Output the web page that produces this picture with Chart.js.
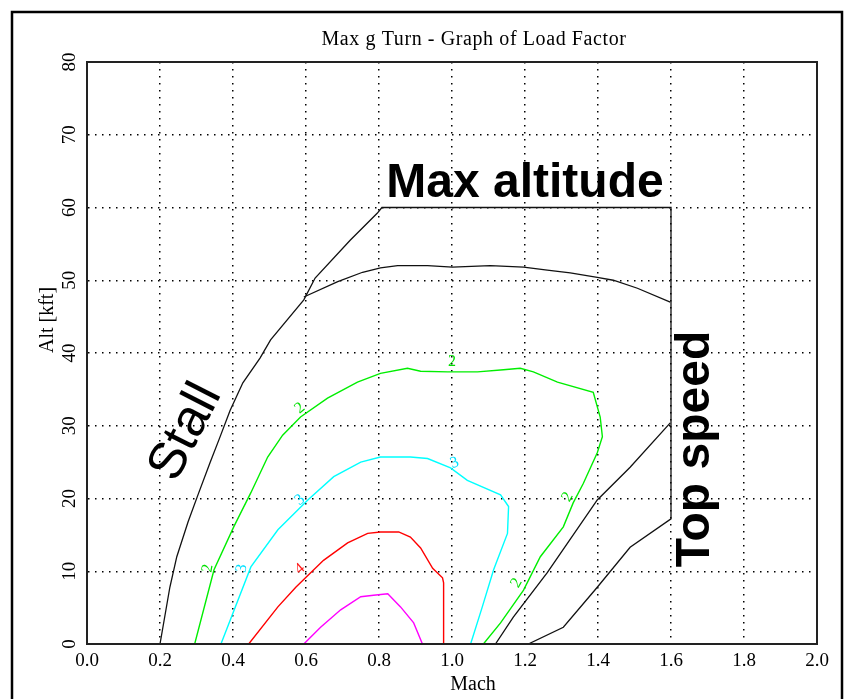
<!DOCTYPE html>
<html>
<head>
<meta charset="utf-8">
<script src="https://cdn.jsdelivr.net/npm/chart.js@4"></script>
<style>
  body { margin: 0; background: #fff; }
  #wrap { position: absolute; left: 0; top: 0; width: 844px; height: 699px; }
</style>
</head>
<body>
<div id="wrap"><canvas id="chart" width="844" height="699"></canvas></div>
<script>
//// LOAD FACTOR CHART

// tick values
const machTicks = [0, 0.2, 0.4, 0.6, 0.8, 1.0, 1.2, 1.4, 1.6, 1.8, 2.0];
const altTicks = [0, 10, 20, 30, 40, 50, 60, 70, 80];

// flight envelope: stall line, max altitude, top speed
const envelopeMach = [0.200, 0.227, 0.246, 0.277, 0.304, 0.337, 0.364, 0.392, 0.427, 0.474, 0.503, 0.594, 0.625, 0.721, 0.795, 0.808, 1.600, 1.600, 1.488, 1.398, 1.305, 1.209];
const envelopeAlt  = [0, 7.8, 12.0, 16.8, 20.5, 24.9, 28.4, 32.1, 35.9, 39.3, 41.8, 47.3, 50.3, 55.5, 59.2, 60.0, 60.0, 17.2, 13.3, 7.8, 2.3, 0];

// 1g ceiling
const ceilingMach = [0.594, 0.687, 0.755, 0.804, 0.851, 0.933, 1.001, 1.105, 1.196, 1.261, 1.324, 1.398, 1.442, 1.508, 1.598];
const ceilingAlt  = [47.7, 49.8, 51.1, 51.7, 52.0, 52.0, 51.8, 52.0, 51.8, 51.4, 51.0, 50.4, 50.0, 48.9, 47.0];

// second top speed line
const speedMach = [1.119, 1.168, 1.261, 1.398, 1.488, 1.598];
const speedAlt  = [0, 3.7, 9.8, 19.8, 24.3, 30.4];

// load factor contours
const g2Mach = [0.295, 0.348, 0.402, 0.449, 0.495, 0.536, 0.585, 0.659, 0.741, 0.804, 0.878, 0.914, 0.988, 1.070, 1.141, 1.187, 1.223, 1.289, 1.387, 1.406, 1.412, 1.398, 1.360, 1.332, 1.305, 1.242, 1.196, 1.133, 1.086];
const g2Alt  = [0, 10.2, 16.1, 20.8, 25.7, 28.7, 31.2, 33.8, 36.0, 37.2, 37.9, 37.5, 37.4, 37.4, 37.7, 37.9, 37.4, 36.0, 34.6, 31.2, 28.5, 26.3, 22.1, 19.4, 16.1, 12.0, 7.4, 2.9, 0];

const g3Mach = [0.367, 0.449, 0.523, 0.605, 0.676, 0.750, 0.804, 0.886, 0.933, 0.996, 1.042, 1.133, 1.155, 1.152, 1.114, 1.083, 1.051];
const g3Alt  = [0, 10.6, 15.7, 19.8, 23.0, 25.0, 25.7, 25.7, 25.5, 24.2, 22.5, 20.5, 18.9, 15.2, 10.2, 5.1, 0];

const g4Mach = [0.443, 0.523, 0.572, 0.648, 0.714, 0.769, 0.804, 0.854, 0.886, 0.914, 0.947, 0.974, 0.977, 0.977];
const g4Alt  = [0, 5.1, 7.8, 11.5, 13.9, 15.2, 15.4, 15.4, 14.7, 13.2, 10.4, 9.1, 8.4, 0];

const g5Mach = [0.594, 0.640, 0.695, 0.750, 0.785, 0.824, 0.859, 0.895, 0.919];
const g5Alt  = [0, 2.3, 4.7, 6.5, 6.7, 6.9, 5.1, 2.9, 0];

// contour labels
const labelText = ['2', '2', '2', '2', '2', '3', '3', '3', '4'];
const labelMach = [1.000, 0.583, 0.331, 1.317, 1.177, 1.007, 0.583, 0.424, 0.583];
const labelAlt  = [38.8, 32.4, 10.4, 20.2, 8.4, 24.9, 19.8, 10.4, 10.3];
const labelColor = ['#00e000', '#00e000', '#00e000', '#00e000', '#00e000', '#00e0ff', '#00e0ff', '#00e0ff', '#ff2020'];
const labelRot = [0, -40, -80, -60, -60, -20, -40, -80, -40];

function pts(xs, ys) {
    return xs.map((x, i) => ({ x: x, y: ys[i] }));
}

function line(xs, ys, color, width) {
    return {
        data: pts(xs, ys),
        showLine: true,
        borderColor: color,
        borderWidth: width,
        pointRadius: 0,
        tension: 0,
        fill: false
    };
}

const serif = '"Liberation Serif", "DejaVu Serif", serif';
const sans = '"Liberation Sans", Arial, sans-serif';

const textPlugin = {
    id: 'texts',
    beforeDraw(chart) {
        const ctx = chart.ctx;
        ctx.save();
        ctx.fillStyle = '#fff';
        ctx.fillRect(0, 0, chart.width, chart.height);
        // outer frame
        ctx.strokeStyle = '#000';
        ctx.lineWidth = 2.5;
        ctx.beginPath();
        ctx.moveTo(12, 700);
        ctx.lineTo(12, 12);
        ctx.lineTo(842, 12);
        ctx.lineTo(842, 700);
        ctx.stroke();
        ctx.restore();
    },
    afterDraw(chart) {
        const ctx = chart.ctx;
        const a = chart.chartArea;
        const xs = chart.scales.x;
        const ys = chart.scales.y;
        ctx.save();
        // plot box
        ctx.strokeStyle = '#222';
        ctx.lineWidth = 2;
        ctx.strokeRect(a.left, a.top, a.right - a.left, a.bottom - a.top);

        ctx.fillStyle = '#000';
        ctx.font = '20px ' + serif;
        ctx.textAlign = 'center';
        ctx.textBaseline = 'alphabetic';
        ctx.letterSpacing = '0.6px';
        ctx.fillText('Max g Turn - Graph of Load Factor', 474, 45);
        ctx.letterSpacing = '0px';
        ctx.fillText('Mach', 473, 690);
        ctx.save();
        ctx.translate(53, 320);
        ctx.rotate(-Math.PI / 2);
        ctx.fillText('Alt [kft]', 0, 0);
        ctx.restore();

        // big annotations
        ctx.font = 'bold 48px ' + sans;
        ctx.fillText('Max altitude', xs.getPixelForValue(1.2), ys.getPixelForValue(61.4));
        ctx.save();
        ctx.translate(xs.getPixelForValue(1.703), ys.getPixelForValue(26.8));
        ctx.rotate(-Math.PI / 2);
        ctx.fillText('Top speed', 0, 0);
        ctx.restore();
        ctx.save();
        ctx.font = '52px ' + sans;
        ctx.textBaseline = 'middle';
        ctx.translate(xs.getPixelForValue(0.271), ys.getPixelForValue(29.1));
        ctx.rotate(-63 * Math.PI / 180);
        ctx.fillText('Stall', 0, 0);
        ctx.restore();

        // contour labels
        ctx.font = '16px ' + serif;
        ctx.textBaseline = 'middle';
        labelText.forEach((t, i) => {
            ctx.save();
            ctx.fillStyle = labelColor[i];
            ctx.translate(xs.getPixelForValue(labelMach[i]), ys.getPixelForValue(labelAlt[i]));
            ctx.rotate(labelRot[i] * Math.PI / 180);
            ctx.fillText(t, 0, 0);
            ctx.restore();
        });
        ctx.restore();
    }
};

new Chart(document.getElementById('chart'), {
    type: 'scatter',
    data: {
        datasets: [
            line(envelopeMach, envelopeAlt, '#111', 1.3),
            line(ceilingMach, ceilingAlt, '#111', 1.3),
            line(speedMach, speedAlt, '#111', 1.3),
            line(g2Mach, g2Alt, '#00ee00', 1.4),
            line(g3Mach, g3Alt, '#00ffff', 1.4),
            line(g4Mach, g4Alt, '#ff0000', 1.4),
            line(g5Mach, g5Alt, '#ff00ff', 1.4)
        ]
    },
    options: {
        responsive: false,
        animation: false,
        devicePixelRatio: 1,
        layout: { padding: { left: 0, right: 27, top: 62, bottom: 0 } },
        plugins: {
            legend: { display: false },
            tooltip: { enabled: false }
        },
        scales: {
            x: {
                type: 'linear',
                min: 0, max: 2,
                afterBuildTicks: s => { s.ticks = machTicks.map(v => ({ value: v })); },
                afterFit: s => { s.height = 55; },
                grid: { color: '#000', lineWidth: 1.5, drawTicks: false },
                border: { display: true, color: '#222', width: 2, dash: [1.5, 5.5] },
                ticks: {
                    color: '#000',
                    padding: 6,
                    maxRotation: 0,
                    font: { family: serif, size: 19 },
                    callback: v => Number(v).toFixed(1)
                }
            },
            y: {
                type: 'linear',
                min: 0, max: 80,
                afterBuildTicks: s => { s.ticks = altTicks.map(v => ({ value: v })); },
                afterFit: s => { s.width = 87; },
                grid: { color: '#000', lineWidth: 1.5, drawTicks: false },
                border: { display: true, color: '#222', width: 2, dash: [1.5, 5.5] },
                ticks: {
                    color: '#000',
                    padding: 7,
                    minRotation: 90,
                    maxRotation: 90,
                    crossAlign: 'center',
                    font: { family: serif, size: 19 }
                }
            }
        }
    },
    plugins: [textPlugin]
});
</script>
</body>
</html>
